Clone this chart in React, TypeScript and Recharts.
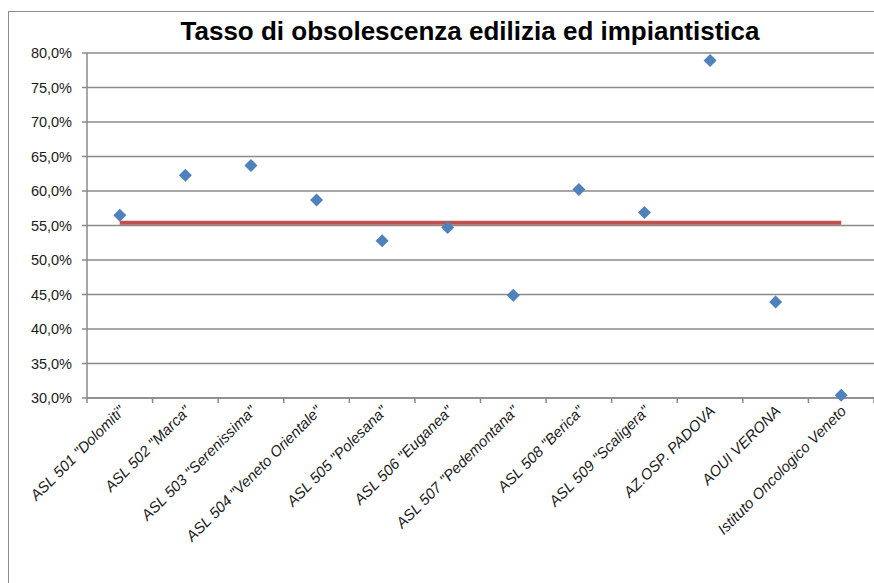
import React from 'react';
import { ComposedChart, Line, XAxis, YAxis, CartesianGrid } from 'recharts';

// values (percent)
const categories = [
  'ASL 501 "Dolomiti"',
  'ASL 502 "Marca"',
  'ASL 503 "Serenissima"',
  'ASL 504 "Veneto Orientale"',
  'ASL 505 "Polesana"',
  'ASL 506 "Euganea"',
  'ASL 507 "Pedemontana"',
  'ASL 508 "Berica"',
  'ASL 509 "Scaligera"',
  'AZ.OSP. PADOVA',
  'AOUI VERONA',
  'Istituto Oncologico Veneto',
];
const obsolescenza = [56.5, 62.3, 63.7, 58.7, 52.8, 54.7, 44.9, 60.2, 56.9, 78.9, 43.9, 30.4];
const media = 55.4;
const yTicks = [30, 35, 40, 45, 50, 55, 60, 65, 70, 75, 80];
const xBounds = [0, 1, 2, 3, 4, 5, 6, 7, 8, 9, 10, 11, 12];

const data = categories.map((name, i) => ({
  x: i + 0.5,
  name,
  value: obsolescenza[i],
  avg: media,
}));

const CHART_W = 874;
const CHART_H = 583;
const Y_AXIS_W = 87;
const MARGIN = { top: 53, right: 0, left: 0, bottom: 15 };
const BAND = (CHART_W - MARGIN.left - MARGIN.right - Y_AXIS_W) / categories.length;

const GRID = '#8a8a8a';
const FONT = '"Liberation Sans", Arial, sans-serif';

const fmtPct = (v: number) => v.toFixed(1).replace('.', ',') + '%';

const CategoryTick = (props: any) => {
  const { x, y, index } = props;
  if (index >= categories.length) return <g />;
  const ax = x + BAND / 2 + 6;
  const ay = y + 7;
  return (
    <text
      x={ax}
      y={ay}
      transform={`rotate(-45, ${ax}, ${ay})`}
      textAnchor="end"
      fontSize={15}
      fontStyle="italic"
      fontFamily={FONT}
      fill="#1a1a1a"
    >
      {categories[index]}
    </text>
  );
};

const Diamond = (props: any) => {
  const { cx, cy, index } = props;
  if (cx == null || cy == null) return <g key={index} />;
  const r = 6.5;
  return (
    <polygon
      key={index}
      points={`${cx},${cy - r} ${cx + r},${cy} ${cx},${cy + r} ${cx - r},${cy}`}
      fill="#4f81bd"
    />
  );
};

export default function App() {
  return (
    <div
      style={{
        position: 'absolute',
        left: 0,
        top: 0,
        width: CHART_W,
        height: CHART_H,
        overflow: 'hidden',
        background: '#fff',
        fontFamily: FONT,
      }}
    >
      <div
        style={{
          position: 'absolute',
          left: 8,
          top: 11,
          right: -2,
          bottom: -2,
          borderLeft: '1.5px solid #8c8c8c',
          borderTop: '1.5px solid #8c8c8c',
        }}
      />
      <div
        style={{
          position: 'absolute',
          left: 120,
          width: 700,
          top: 16,
          textAlign: 'center',
          fontSize: 26,
          fontWeight: 'bold',
          color: '#000',
          whiteSpace: 'nowrap',
        }}
      >
        Tasso di obsolescenza edilizia ed impiantistica
      </div>
      <div style={{ position: 'absolute', left: 0, top: 0 }}>
        <ComposedChart width={CHART_W} height={CHART_H} data={data} margin={MARGIN}>
          <CartesianGrid vertical={false} stroke={GRID} strokeWidth={1.5} />
          <XAxis
            dataKey="x"
            type="number"
            domain={[0, 12]}
            ticks={xBounds}
            interval={0}
            height={170}
            tickSize={5}
            stroke={GRID}
            strokeWidth={1.5}
            tick={<CategoryTick />}
          />
          <YAxis
            type="number"
            domain={[30, 80]}
            ticks={yTicks}
            width={Y_AXIS_W}
            tickSize={5}
            tickMargin={10}
            stroke={GRID}
            strokeWidth={1.5}
            tickFormatter={fmtPct}
            tick={{ fill: '#1a1a1a', fontSize: 14.5, fontFamily: FONT }}
          />
          <Line
            dataKey="avg"
            stroke="#c0504d"
            strokeWidth={4}
            dot={false}
            isAnimationActive={false}
          />
          <Line
            dataKey="value"
            stroke="none"
            dot={<Diamond />}
            activeDot={false}
            isAnimationActive={false}
          />
        </ComposedChart>
      </div>
    </div>
  );
}
